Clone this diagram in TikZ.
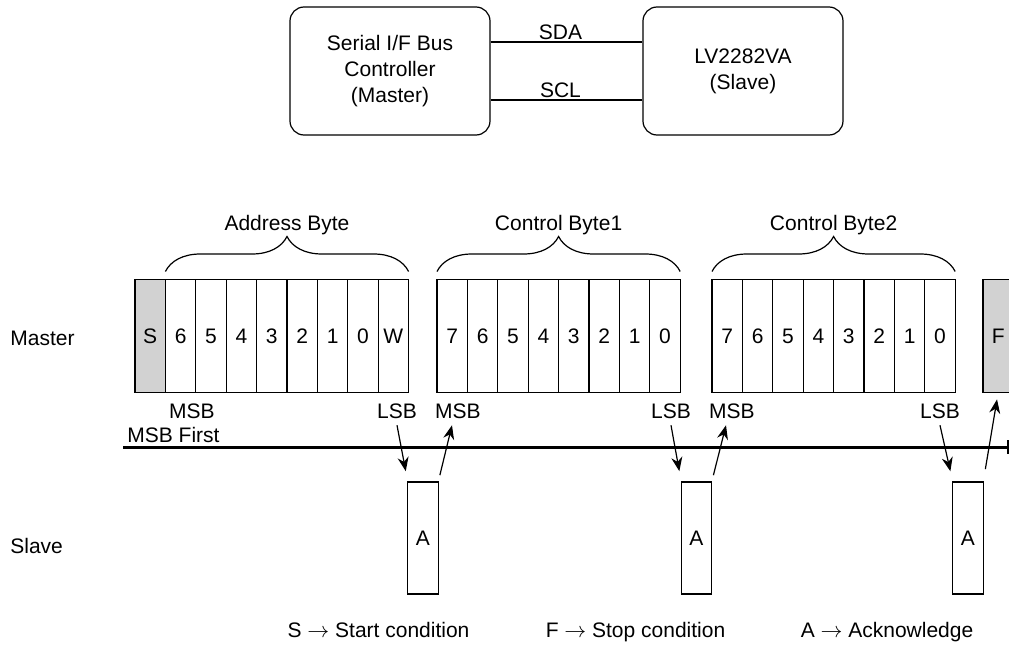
\documentclass[tikz,border=0pt]{standalone}
\usepackage{fontspec}
\setmainfont{Liberation Sans}
\usetikzlibrary{positioning,arrows.meta,calc,decorations.pathreplacing}

\begin{document}
\begin{tikzpicture}[x=0.5pt, y=-0.5pt, >={Stealth[length=7pt,width=5.5pt]},
    every node/.style={font=\fontsize{10.5pt}{13pt}\selectfont},
    unitbox/.style={draw, line width=0.6pt, rounded corners=7pt, minimum width=100pt,
      minimum height=64pt, align=center},
    wire/.style={line width=0.6pt},
    bitcell/.style={draw, line width=0.6pt, minimum width=15.2pt, minimum height=56.5pt,
      inner sep=0pt, outer sep=0pt},
    condcell/.style={bitcell, fill=gray!35},
    ackcell/.style={bitcell, minimum height=56pt},
    bytebrace/.style={decorate, decoration={brace, amplitude=17.5pt, raise=4pt}, line width=0.6pt},
    bytelbl/.style={anchor=base, yshift=24.5pt},
    bitlbl/.style={anchor=base},
    sidelbl/.style={anchor=base west, inner sep=0pt},
    ackarrow/.style={->, line width=0.6pt}]
    \useasboundingbox (0,0) rectangle (1009,648);
    \clip (0,0) rectangle (1009,648);

    % Bus controller and device
    \node[unitbox] (ctrl) at (390,71) {Serial I/F Bus\\Controller\\(Master)};
    \node[unitbox] (dev) at (743,71) {LV2282VA\\(Slave)};
    \draw[wire] ($(ctrl.east)+(0,-29)$) coordinate (sda) -- node[above, pos=0.46, inner sep=1pt] {SDA}
      (sda -| dev.west);
    \draw[wire] ($(ctrl.east)+(0,29)$) coordinate (scl) -- node[above, pos=0.46, inner sep=1pt] {SCL}
      (scl -| dev.west);

    % Side labels
    \node[sidelbl] (mst) at (10,345) {Master};
    \node[sidelbl] (slv) at (10,553) {Slave};

    % Bit cells (master side)
    \node[condcell] (ad0) at (150.2,336) {S};
    \foreach \bit [count=\i] in {6,5,4,3,2,1,0,W}
      \node[bitcell] (ad\i) at ({150.2+30.4*\i},336) {\bit};
    \foreach \bit [count=\i from 0] in {7,6,5,4,3,2,1,0} {
      \node[bitcell] (cb\i) at ({452.2+30.4*\i},336) {\bit};
      \node[bitcell] (cc\i) at ({727.2+30.4*\i},336) {\bit};
    }
    \node[condcell] (stp) at (998.2,336) {F};

    % Byte braces
    \draw[bytebrace] (ad1.north west) -- (ad8.north east);
    \draw[bytebrace] (cb0.north west) -- (cb7.north east);
    \draw[bytebrace] (cc0.north west) -- (cc7.north east);
    \node[bytelbl] (adrlbl) at ($(ad1.north)!0.5!(ad8.north)$) {Address Byte};
    \node[bytelbl] (cb1lbl) at ($(cb0.north)!0.5!(cb7.north)$) {Control Byte1};
    \node[bytelbl] (cb2lbl) at ($(cc0.north)!0.5!(cc7.north)$) {Control Byte2};

    % MSB / LSB
    \node[bitlbl] (msbA) at (192,418) {MSB};
    \node[bitlbl] (lsbA) at (397,418) {LSB};
    \node[bitlbl] (msbB) at (458,418) {MSB};
    \node[bitlbl] (lsbB) at (671,418) {LSB};
    \node[bitlbl] (msbC) at (732,418) {MSB};
    \node[bitlbl] (lsbC) at (940,418) {LSB};
    \node[sidelbl] (first) at (127,442) {MSB First};

    % Master / slave divider
    \coordinate (busL) at (123,447);
    \coordinate (busR) at (1008,447);
    \draw[line width=1.5pt] (busL) -- (busR);
    \draw[line width=0.8pt] ($(busR)+(0,-7)$) -- ($(busR)+(0,7)$);

    % Acknowledge cells (slave side)
    \node[ackcell] (ack1) at (423,538) {A};
    \node[ackcell] (ack2) at (696.5,538) {A};
    \node[ackcell] (ack3) at (968,538) {A};

    \draw[ackarrow, shorten >=5.5pt] (lsbA.south) -- (ack1.north west);
    \draw[ackarrow, shorten <=3.5pt] (ack1.north east) -- ([xshift=-3pt]msbB.south);
    \draw[ackarrow, shorten >=5.5pt] (lsbB.south) -- (ack2.north west);
    \draw[ackarrow, shorten <=3.5pt] (ack2.north east) -- ([xshift=-3pt]msbC.south);
    \draw[ackarrow, shorten >=5.5pt] (lsbC.south) -- (ack3.north west);
    \draw[ackarrow, shorten <=6.5pt, shorten >=3.5pt] (ack3.north east) -- (stp.south);

    % Legend
    \node[bitlbl] (lgS) at (378.5,637) {S $\rightarrow$ Start condition};
    \node[bitlbl] (lgF) at (635.5,637) {F $\rightarrow$ Stop condition};
    \node[bitlbl] (lgA) at (887,637) {A $\rightarrow$ Acknowledge};
  \end{tikzpicture}
\end{document}
